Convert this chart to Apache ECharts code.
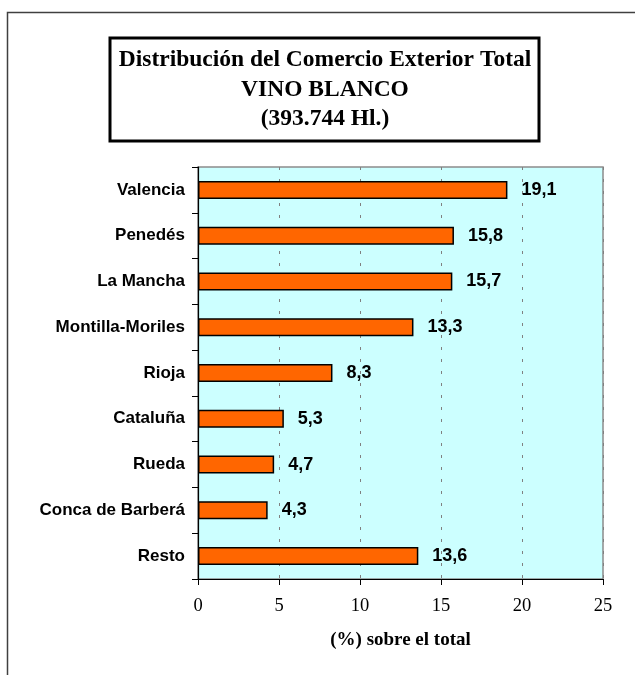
<!DOCTYPE html>
<html>
<head>
<meta charset="utf-8">
<script src="https://cdn.jsdelivr.net/npm/echarts@6/dist/echarts.min.js"></script>
<style>html,body{margin:0;padding:0;background:#fff}#c{width:635px;height:675px}</style>
</head>
<body>
<div id="c"></div>
<script>
const categories = ["Valencia","Penedés","La Mancha","Montilla-Moriles","Rioja","Cataluña","Rueda","Conca de Barberá","Resto"];
const values = [19.1, 15.8, 15.7, 13.3, 8.3, 5.3, 4.7, 4.3, 13.6];
const xTicks = [0, 5, 10, 15, 20, 25];
const titleLines = ["Distribución del Comercio Exterior Total", "VINO BLANCO", "(393.744 Hl.)"];
const xAxisTitle = "(%) sobre el total";

const chart = echarts.init(document.getElementById('c'), null, {renderer: 'canvas'});
chart.setOption({
  animation: false,
  backgroundColor: '#ffffff',
  graphic: [
    {type: 'polyline', shape: {points: [[7.5, 675], [7.5, 12.5], [635, 12.5]]}, style: {stroke: '#404040', lineWidth: 1.5, fill: null}, z: 10},
    {type: 'rect', shape: {x: 110, y: 38, width: 429, height: 103}, style: {stroke: '#000', lineWidth: 3, fill: '#fff'}, z: 10},
    {type: 'text', x: 325, y: 45.5, style: {text: titleLines.join('\n'), fontFamily: 'Liberation Serif', fontWeight: 'bold', fontSize: 23.5, lineHeight: 29.5, align: 'center', verticalAlign: 'top', fill: '#000'}, z: 11}
  ],
  grid: {left: 198, top: 167, width: 405, height: 412, show: true, backgroundColor: '#ccffff', borderColor: '#8c8c8c', borderWidth: 1.5},
  xAxis: {
    type: 'value', min: 0, max: 25, interval: 5,
    axisLine: {show: true, lineStyle: {color: '#000', width: 1.2}},
    axisTick: {show: true, length: 6, lineStyle: {color: '#000'}},
    axisLabel: {fontFamily: 'Liberation Serif', fontSize: 18.5, color: '#000', margin: 18,
      formatter: v => xTicks.includes(v) ? String(v) : ''},
    splitLine: {show: true, lineStyle: {color: '#808080', type: [3, 9], width: 1}},
    name: xAxisTitle, nameLocation: 'middle', nameGap: 52,
    nameTextStyle: {fontFamily: 'Liberation Serif', fontWeight: 'bold', fontSize: 19, color: '#000'}
  },
  yAxis: {
    type: 'category', data: categories, inverse: true,
    axisLine: {show: true, lineStyle: {color: '#000', width: 1.2}},
    axisTick: {show: true, length: 6, lineStyle: {color: '#000'}},
    axisLabel: {fontFamily: 'Liberation Sans', fontWeight: 'bold', fontSize: 17, color: '#000', margin: 13}
  },
  series: [{
    type: 'bar', data: values, barWidth: 18,
    itemStyle: {color: '#ff6600', borderColor: '#000', borderWidth: 1.5},
    label: {show: true, position: 'right', distance: 14, fontFamily: 'Liberation Sans', fontWeight: 'bold', fontSize: 18, color: '#000',
      formatter: p => p.value.toFixed(1).replace('.', ',')}
  }]
});
</script>
</body>
</html>
